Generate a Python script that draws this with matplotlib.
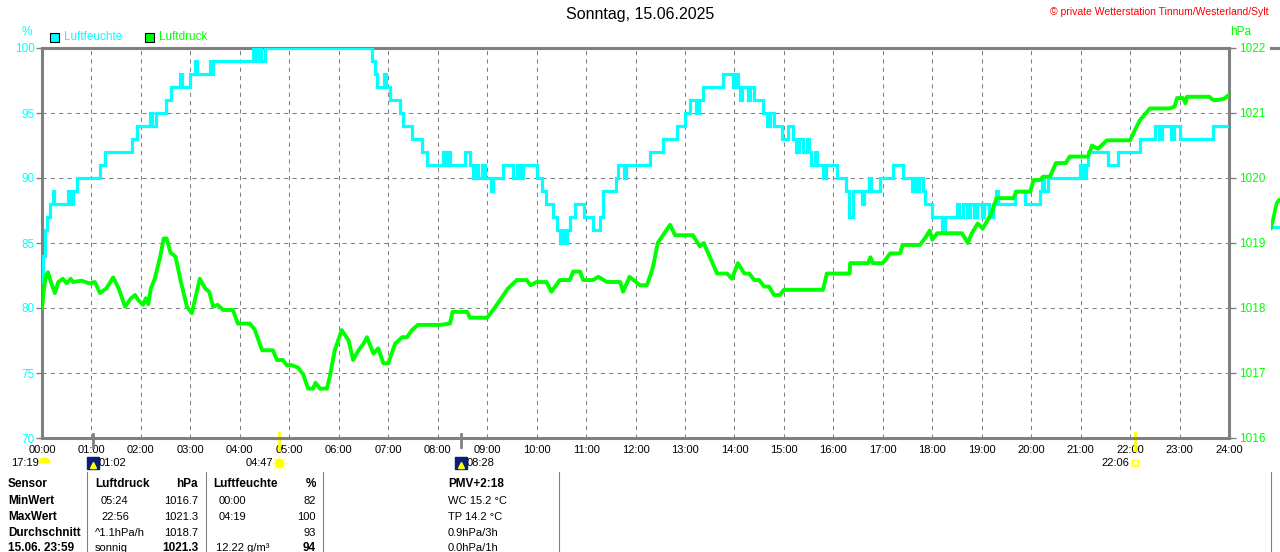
import matplotlib
matplotlib.use("Agg")
import matplotlib.pyplot as plt
from matplotlib import transforms
from matplotlib.patches import Rectangle
from matplotlib.lines import Line2D

plt.rcParams['font.family'] = ['Liberation Sans', 'DejaVu Sans']

# Luftfeuchte in % (Stufen: Beginn in Stunden, Wert)
feuchte_t = [0.00, 0.03, 0.06, 0.10, 0.17, 0.22, 0.25, 0.52, 0.58, 0.62, 0.71, 1.17, 1.27, 1.82, 1.92,
             2.18, 2.22, 2.30, 2.50, 2.60, 2.80, 2.84, 3.00, 3.10, 3.14, 3.40, 3.44, 3.46, 4.27, 4.33,
             4.38, 4.42, 4.50, 6.67, 6.74, 6.78, 6.92, 6.96, 7.04, 7.24, 7.30, 7.48, 7.68, 7.78, 8.10,
             8.14, 8.20, 8.24, 8.55, 8.65, 8.72, 8.78, 8.82, 8.90, 8.95, 9.07, 9.11, 9.32, 9.52, 9.60,
             9.66, 9.72, 10.00, 10.10, 10.20, 10.33, 10.42, 10.48, 10.52, 10.58, 10.62, 10.67, 10.78,
             10.95, 11.15, 11.28, 11.35, 11.60, 11.65, 11.76, 11.80, 12.30, 12.55, 12.84, 13.00, 13.10,
             13.22, 13.28, 13.36, 13.77, 13.97, 14.02, 14.07, 14.12, 14.16, 14.28, 14.32, 14.40, 14.58,
             14.66, 14.72, 14.80, 14.96, 15.08, 15.18, 15.24, 15.30, 15.38, 15.46, 15.50, 15.54, 15.62,
             15.66, 15.80, 15.86, 16.07, 16.25, 16.32, 16.40, 16.58, 16.62, 16.72, 16.76, 16.94, 17.20,
             17.40, 17.60, 17.64, 17.70, 17.74, 17.82, 17.86, 18.00, 18.20, 18.26, 18.50, 18.55, 18.62,
             18.70, 18.76, 18.85, 18.90, 19.00, 19.05, 19.15, 19.23, 19.28, 19.32, 19.67, 19.87, 20.18,
             20.22, 20.26, 20.34, 20.98, 21.05, 21.10, 21.15, 21.55, 21.75, 22.20, 22.50, 22.58, 22.64,
             22.82, 22.88, 23.00, 23.68, 24.00]
feuchte_v = [82, 84, 86, 87, 88, 89, 88, 89, 88, 89, 90, 91, 92, 93, 94,
             95, 94, 95, 96, 97, 98, 97, 98, 99, 98, 99, 98, 99, 100, 99,
             100, 99, 100, 99, 98, 97, 98, 97, 96, 95, 94, 93, 92, 91, 92,
             91, 92, 91, 92, 91, 90, 91, 90, 91, 90, 89, 90, 91, 90, 91,
             90, 91, 90, 89, 88, 87, 86, 85, 86, 85, 86, 87, 88,
             87, 86, 87, 89, 90, 91, 90, 91, 92, 93, 94, 95, 96,
             95, 96, 97, 98, 97, 98, 97, 96, 97, 96, 97, 96, 95,
             94, 95, 94, 93, 94, 93, 92, 93, 92, 93, 92, 91, 92,
             91, 90, 91, 90, 89, 87, 89, 88, 89, 90, 89, 90, 91,
             90, 89, 90, 89, 90, 89, 88, 87, 86, 87, 88, 87, 88,
             87, 88, 87, 88, 87, 88, 87, 88, 89, 88, 89, 88, 89,
             90, 89, 90, 91, 90, 91, 92, 91, 92, 93, 94, 93, 94,
             93, 94, 93, 94, 94]

# Luftdruck in hPa
druck_t = [0.00, 0.04, 0.08, 0.12, 0.18, 0.26, 0.33, 0.42, 0.50, 0.58, 0.63, 0.80, 0.95, 1.07, 1.17,
           1.30, 1.44, 1.55, 1.68, 1.80, 1.88, 1.95, 2.04, 2.10, 2.15, 2.20, 2.28, 2.39, 2.46, 2.52,
           2.60, 2.70, 2.80, 2.93, 3.03, 3.10, 3.19, 3.30, 3.38, 3.46, 3.55, 3.66, 3.86, 3.96, 4.20,
           4.30, 4.45, 4.67, 4.75, 4.87, 4.95, 5.06, 5.18, 5.28, 5.38, 5.48, 5.53, 5.62, 5.76, 5.82,
           5.92, 6.06, 6.20, 6.29, 6.40, 6.50, 6.57, 6.70, 6.80, 6.90, 7.00, 7.14, 7.28, 7.38, 7.48,
           7.60, 8.05, 8.25, 8.30, 8.60, 8.65, 9.00, 9.15, 9.26, 9.42, 9.60, 9.80, 9.88, 10.00, 10.20,
           10.30, 10.47, 10.67, 10.74, 10.88, 10.94, 11.14, 11.25, 11.42, 11.69, 11.75, 11.88, 12.09,
           12.23, 12.30, 12.35, 12.45, 12.60, 12.70, 12.80, 13.16, 13.30, 13.38, 13.50, 13.65, 13.85,
           13.95, 14.07, 14.20, 14.30, 14.40, 14.50, 14.60, 14.70, 14.80, 14.92, 15.00, 15.79, 15.87,
           16.33, 16.34, 16.70, 16.75, 16.80, 17.00, 17.15, 17.35, 17.40, 17.75, 17.85, 17.95, 18.00,
           18.10, 18.60, 18.72, 18.80, 18.92, 19.02, 19.20, 19.30, 19.64, 19.70, 19.98, 20.05, 20.18,
           20.24, 20.38, 20.50, 20.70, 20.78, 21.15, 21.23, 21.35, 21.53, 22.00, 22.10, 22.20, 22.40,
           22.80, 22.90, 22.95, 23.07, 23.12, 23.15, 23.60, 23.68, 23.78, 23.90, 24.00]
druck_v = [1018.00, 1018.30, 1018.50, 1018.55, 1018.40, 1018.23, 1018.40, 1018.45, 1018.38, 1018.45,
           1018.40, 1018.42, 1018.38, 1018.40, 1018.23, 1018.30, 1018.47, 1018.30, 1018.02, 1018.15,
           1018.20, 1018.12, 1018.05, 1018.15, 1018.06, 1018.30, 1018.45, 1018.79, 1019.07, 1019.07,
           1018.85, 1018.79, 1018.43, 1018.02, 1017.92, 1018.15, 1018.45, 1018.30, 1018.25, 1018.02,
           1018.05, 1017.97, 1017.97, 1017.76, 1017.76, 1017.67, 1017.35, 1017.35, 1017.20, 1017.20,
           1017.12, 1017.12, 1017.08, 1016.98, 1016.76, 1016.76, 1016.85, 1016.76, 1016.76, 1016.95,
           1017.35, 1017.66, 1017.50, 1017.20, 1017.35, 1017.45, 1017.55, 1017.30, 1017.38, 1017.15,
           1017.15, 1017.45, 1017.55, 1017.55, 1017.66, 1017.74, 1017.74, 1017.76, 1017.94, 1017.94,
           1017.85, 1017.85, 1018.00, 1018.12, 1018.30, 1018.43, 1018.43, 1018.35, 1018.40, 1018.40,
           1018.25, 1018.43, 1018.43, 1018.56, 1018.56, 1018.43, 1018.43, 1018.48, 1018.40, 1018.40,
           1018.25, 1018.48, 1018.35, 1018.35, 1018.50, 1018.62, 1019.00, 1019.17, 1019.28, 1019.12,
           1019.12, 1018.95, 1019.00, 1018.79, 1018.53, 1018.53, 1018.45, 1018.69, 1018.53, 1018.53,
           1018.43, 1018.43, 1018.33, 1018.33, 1018.20, 1018.20, 1018.28, 1018.28, 1018.53, 1018.53,
           1018.69, 1018.69, 1018.78, 1018.69, 1018.69, 1018.84, 1018.84, 1018.97, 1018.97, 1019.07,
           1019.19, 1019.05, 1019.15, 1019.15, 1019.00, 1019.15, 1019.30, 1019.22, 1019.46, 1019.69,
           1019.69, 1019.79, 1019.79, 1019.97, 1019.97, 1020.02, 1020.02, 1020.23, 1020.23, 1020.33,
           1020.33, 1020.50, 1020.45, 1020.58, 1020.58, 1020.74, 1020.89, 1021.07, 1021.07, 1021.10,
           1021.23, 1021.23, 1021.15, 1021.25, 1021.25, 1021.20, 1021.20, 1021.22, 1021.28]

# Anfang des naechsten Tages (rechts abgeschnittenes Nachbarbild)
naechst_t = [0.00, 0.04, 0.08, 0.12, 0.16]
naechst_druck = [1019.23, 1019.35, 1019.50, 1019.62, 1019.66]
naechst_feuchte = [86.2, 86.2, 86.2, 86.2, 86.2]

stunden = list(range(25))
stunden_labels = ['%02d:00' % h for h in stunden]
feuchte_ticks = [70, 75, 80, 85, 90, 95, 100]
druck_ticks = [1016, 1017, 1018, 1019, 1020, 1021, 1022]

# Sonne / Mond: Label, Position (h), Art
ereignis_label = ['17:19', '01:02', '04:47', '08:28', '22:06']
ereignis_zeit = [0.05, 1 + 2 / 60, 4 + 47 / 60, 8 + 28 / 60, 22 + 6 / 60]
ereignis_art = ['mondauf', 'mondunter', 'sonnenauf', 'mondunter', 'sonnenunter']

# Tabelle unten
tab_sensor = ['Sensor', 'MinWert', 'MaxWert', 'Durchschnitt', '15.06. 23:59']
tab_druck_a = ['Luftdruck', '05:24', '22:56', '^1.1hPa/h', 'sonnig']
tab_druck_b = ['hPa', '1016.7', '1021.3', '1018.7', '1021.3']
tab_feuchte_a = ['Luftfeuchte', '00:00', '04:19', '', '12.22 g/m³']
tab_feuchte_b = ['%', '82', '100', '93', '94']
tab_extra = ['PMV+2:18', 'WC 15.2 °C', 'TP 14.2 °C', '0.9hPa/3h', '0.0hPa/1h']

CYAN = '#00FFFF'
GRUEN = '#00FF00'
GRAU = '#808080'

W, H = 1280, 552
fig = plt.figure(figsize=(W / 100, H / 100), dpi=100)
fig.patch.set_facecolor('white')


def fx(x):
    return x / W


def fy(y):
    return 1 - y / H


ax = fig.add_axes([fx(42), fy(438), (1229 - 42) / W, 390 / H])
ax.set_xlim(0, 24)
ax.set_ylim(70, 100)
ax.set_xticks(stunden)
ax.set_xticklabels(stunden_labels)
ax.set_yticks(feuchte_ticks)
ax.tick_params(axis='x', length=0, pad=5, labelsize=8, labelcolor='black')
ax.tick_params(axis='y', length=4, width=1, color=GRAU, labelsize=8.5, labelcolor=CYAN, pad=1)
ax.grid(True, color=GRAU, linestyle=(0, (4, 4)), linewidth=0.75)
for s in ax.spines.values():
    s.set_color(GRAU)
    s.set_linewidth(2.2)

ax.plot(feuchte_t, feuchte_v, color=CYAN, linewidth=2.3, drawstyle='steps-post',
        solid_joinstyle='miter', zorder=3)

ax2 = ax.twinx()
ax2.set_ylim(1016, 1022)
ax2.set_yticks(druck_ticks)
ax2.tick_params(axis='y', length=5, width=1, color=GRAU, labelsize=8.5, labelcolor=GRUEN, pad=2)
for s in ax2.spines.values():
    s.set_visible(False)
ax2.plot(druck_t, druck_v, color=GRUEN, linewidth=2.8, zorder=3)

# Achsenbeschriftungen und Legende
fig.text(fx(27), fy(32), '%', color=CYAN, fontsize=8.5, ha='center', va='center')
fig.text(fx(1241), fy(32), 'hPa', color=GRUEN, fontsize=8.5, ha='center', va='center')
fig.patches.append(Rectangle((fx(50), fy(42)), 9 / W, 9 / H, transform=fig.transFigure,
                             facecolor=CYAN, edgecolor='black', linewidth=0.8))
fig.text(fx(64), fy(37.5), 'Luftfeuchte', color=CYAN, fontsize=8.5, va='center')
fig.patches.append(Rectangle((fx(145), fy(42)), 9 / W, 9 / H, transform=fig.transFigure,
                             facecolor=GRUEN, edgecolor='black', linewidth=0.8))
fig.text(fx(159), fy(37.5), 'Luftdruck', color=GRUEN, fontsize=8.5, va='center')

fig.text(0.5, fy(15), 'Sonntag, 15.06.2025', fontsize=11.5, ha='center', va='center', color='black')
fig.text(fx(1268), fy(12), '© private Wetterstation Tinnum/Westerland/Sylt', fontsize=7.5,
         ha='right', va='center', color='#FF0000')

# Sonnen- und Mondzeiten unter der Zeitachse
trans = transforms.blended_transform_factory(ax.transData, ax.transAxes)
ly = -(463 - 438) / 390
for lab, t, art in zip(ereignis_label, ereignis_zeit, ereignis_art):
    if art in ('sonnenauf', 'sonnenunter'):
        ax.plot([t, t], [0.012, -0.03], color='#FFFF00', linewidth=2, transform=trans, clip_on=False)
    elif art == 'mondunter':
        ax.plot([t, t], [0.01, -0.024], color=GRAU, linewidth=2, transform=trans, clip_on=False)
    if art == 'mondauf':
        ax.plot(t, ly, marker='o', fillstyle='top', markersize=9, markeredgewidth=0,
                color='#FFFF00', transform=trans, clip_on=False)
        ax.text(t - 0.12, ly, lab, fontsize=8, ha='right', va='center', transform=trans)
    elif art == 'mondunter':
        ax.plot(t, ly, marker='s', markersize=9, color='#0A1E78', transform=trans, clip_on=False)
        ax.plot(t, ly - 0.005, marker='^', markersize=4, color='#FFFF00', transform=trans, clip_on=False)
        ax.text(t + 0.12, ly, lab, fontsize=8, ha='left', va='center', transform=trans)
    elif art == 'sonnenauf':
        ax.plot(t, ly, marker=(8, 2, 0), markersize=11, color='#FFFF99', markeredgewidth=1,
                transform=trans, clip_on=False)
        ax.plot(t, ly, marker='o', markersize=6, color='#FFFF00', transform=trans, clip_on=False)
        ax.text(t - 0.12, ly, lab, fontsize=8, ha='right', va='center', transform=trans)
    else:
        ax.plot(t, ly, marker='s', markersize=5, markerfacecolor='none', markeredgecolor='#FFFF00',
                markeredgewidth=1, transform=trans, clip_on=False)
        ax.text(t - 0.12, ly, lab, fontsize=8, ha='right', va='center', transform=trans)

# Tabelle
zeilen_y = [484, 500.5, 516.5, 532.5, 548]
for i, y in enumerate(zeilen_y):
    kopf = i == 0
    fig.text(fx(8), fy(y), tab_sensor[i], fontsize=8.5, fontweight='bold', va='center')
    fig.text(fx(95 if i in (0, 3, 4) else 101), fy(y), tab_druck_a[i], fontsize=8.5 if kopf else 8,
             fontweight='bold' if kopf else 'normal', va='center')
    fig.text(fx(198), fy(y), tab_druck_b[i], fontsize=8.5 if kopf or i == 4 else 8,
             fontweight='bold' if kopf or i == 4 else 'normal', ha='right', va='center')
    fig.text(fx(213 if kopf else (216 if i == 4 else 219)), fy(y), tab_feuchte_a[i],
             fontsize=8.5 if kopf else 8, fontweight='bold' if kopf else 'normal', va='center')
    fig.text(fx(316), fy(y), tab_feuchte_b[i], fontsize=8.5 if kopf or i == 4 else 8,
             fontweight='bold' if kopf or i == 4 else 'normal', ha='right', va='center')
    fig.text(fx(448), fy(y), tab_extra[i], fontsize=8.5 if kopf else 8,
             fontweight='bold' if kopf else 'normal', va='center')

for x in [87, 206, 323, 559, 1271]:
    fig.lines.append(Line2D([fx(x), fx(x)], [fy(472), fy(552)], transform=fig.transFigure,
                            color=GRAU, linewidth=0.8))

# Nachbarbild am rechten Rand
axn = fig.add_axes([fx(1271), fy(438), (1229 - 42) / W, 390 / H])
axn.set_xlim(0, 24)
axn.set_ylim(70, 100)
axn.set_xticks([])
axn.set_yticks([])
axn.patch.set_alpha(0)
for k, s in axn.spines.items():
    s.set_visible(k == 'top')
    s.set_color(GRAU)
    s.set_linewidth(2.2)
axn.plot(naechst_t, naechst_feuchte, color=CYAN, linewidth=2.3, drawstyle='steps-post')
axn2 = axn.twinx()
axn2.set_ylim(1016, 1022)
axn2.set_yticks([])
for s in axn2.spines.values():
    s.set_visible(False)
axn2.plot(naechst_t, naechst_druck, color=GRUEN, linewidth=2.6)

fig.savefig('out.png', dpi=100)
